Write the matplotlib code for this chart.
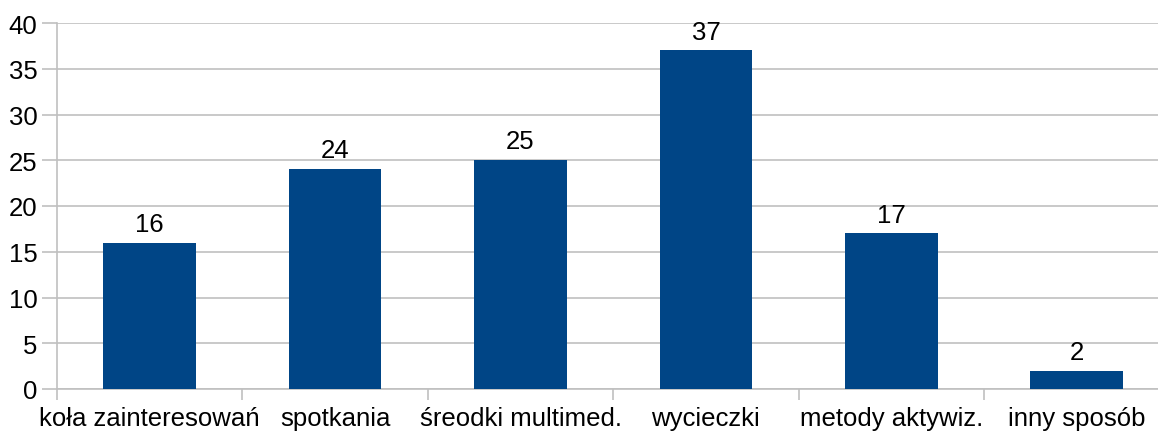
import numpy as np
import matplotlib.pyplot as plt

plt.rcParams['font.family'] = ['Liberation Sans', 'DejaVu Sans']

categories = ['koła zainteresowań', 'spotkania', 'śreodki multimed.',
              'wycieczki', 'metody aktywiz.', 'inny sposób']
values = [16, 24, 25, 37, 17, 2]

bar_color = '#004586'
grid_color = '#c0c0c0'

fig = plt.figure(figsize=(11.58, 4.39), dpi=100)
ax = fig.add_axes([57 / 1158, 49 / 439, 6 * 185.4 / 1158, 366 / 439])

x = np.arange(len(categories))
bars = ax.bar(x, values, width=0.5, color=bar_color, zorder=3)

for b, v in zip(bars, values):
    ax.annotate(str(v), (b.get_x() + b.get_width() / 2, v),
                xytext=(0, 5), textcoords='offset points',
                ha='center', va='bottom', fontsize=18.5)

ax.set_xlim(-0.5, len(categories) - 0.5)
ax.set_ylim(0, 40)
ax.set_yticks(np.arange(0, 41, 5))
ax.yaxis.grid(True, color=grid_color, linewidth=1.2, zorder=0)

# category labels centred, tick marks on the boundaries
ax.set_xticks(x)
ax.set_xticklabels(categories, fontsize=18.5)
ax.tick_params(axis='x', length=0, pad=12)
ax.set_xticks(np.arange(-0.5, len(categories)), minor=True)
ax.tick_params(axis='x', which='minor', length=8, color=grid_color, width=1.2)
ax.tick_params(axis='y', labelsize=18.5, length=11, color=grid_color, width=1.2, pad=3)

for s in ['top', 'right']:
    ax.spines[s].set_visible(False)
ax.spines['left'].set_color(grid_color)
ax.spines['left'].set_linewidth(1.2)
ax.spines['bottom'].set_color(grid_color)
ax.spines['bottom'].set_linewidth(1.2)

fig.savefig('out.png', dpi=100)
